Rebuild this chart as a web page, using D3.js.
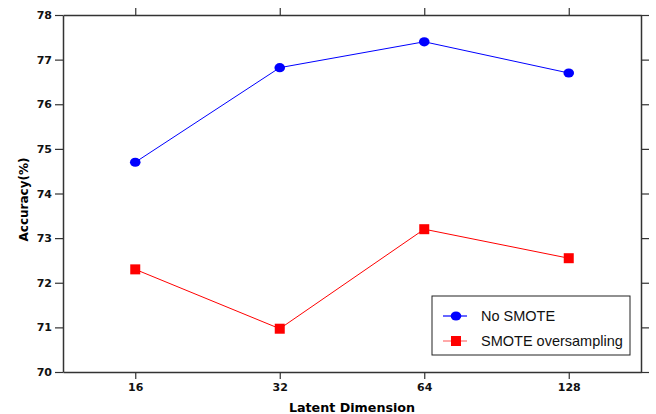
<!DOCTYPE html>
<html>
<head>
<meta charset="utf-8">
<script src="https://cdn.jsdelivr.net/npm/d3@7"></script>
<style>
  body { margin: 0; background: #fff; }
</style>
</head>
<body>
<div id="chart-area"></div>
<script>
// data
const dims = ["16", "32", "64", "128"];
const noSmote = [74.7, 76.82, 77.4, 76.7];
const smote = [72.3, 70.97, 73.2, 72.55];
const yTicks = [70, 71, 72, 73, 74, 75, 76, 77, 78];

const WIDTH = 656, HEIGHT = 414;
const MARGIN = { LEFT: 63, RIGHT: 15, TOP: 15, BOTTOM: 42 };
const w = WIDTH - MARGIN.LEFT - MARGIN.RIGHT;
const h = HEIGHT - MARGIN.TOP - MARGIN.BOTTOM;
const BOLD_FONT = "'DejaVu Sans', sans-serif";
const LEGEND_FONT = "'Liberation Sans', Arial, sans-serif";

const svg = d3.select("#chart-area").append("svg")
  .attr("width", WIDTH).attr("height", HEIGHT);

const g = svg.append("g")
  .attr("transform", `translate(${MARGIN.LEFT}, ${MARGIN.TOP})`);

const x = d3.scalePoint().domain(dims).range([0, w]).padding(0.5);
const y = d3.scaleLinear().domain([70, 78]).range([h, 0]);

// axes on all four sides, labels only left and bottom
const styleAxis = sel => {
  sel.select(".domain").attr("stroke", "#333").attr("stroke-width", 1.5);
  sel.selectAll(".tick line").attr("stroke", "#333").attr("stroke-width", 1.2);
  sel.selectAll("text")
    .style("font-family", BOLD_FONT)
    .style("font-size", "11px").style("font-weight", "bold").attr("fill", "#111");
};

g.append("g").attr("transform", `translate(0, ${h})`)
  .call(d3.axisBottom(x).tickSize(7).tickSizeOuter(0).tickPadding(4))
  .call(styleAxis);
g.append("g")
  .call(d3.axisTop(x).tickSize(7).tickSizeOuter(0).tickFormat(""))
  .call(styleAxis);
g.append("g")
  .call(d3.axisLeft(y).tickValues(yTicks).tickSize(8).tickSizeOuter(0).tickPadding(3))
  .call(styleAxis);
g.append("g").attr("transform", `translate(${w}, 0)`)
  .call(d3.axisRight(y).tickValues(yTicks).tickSize(8).tickSizeOuter(0).tickFormat(""))
  .call(styleAxis);

// axis titles
g.append("text")
  .attr("x", w / 2).attr("y", h + 40)
  .attr("text-anchor", "middle")
  .style("font-family", BOLD_FONT)
  .style("font-size", "12.7px").style("font-weight", "bold")
  .text("Latent Dimension");

g.append("text")
  .attr("transform", "rotate(-90)")
  .attr("x", -(h / 2 + 6)).attr("y", -35.5)
  .attr("text-anchor", "middle")
  .style("font-family", BOLD_FONT)
  .style("font-size", "12px").style("font-weight", "bold")
  .text("Accuracy(%)");

const line = d3.line().x((d, i) => x(dims[i])).y(d => y(d));

// No SMOTE
g.append("path").datum(noSmote)
  .attr("d", line).attr("fill", "none").attr("stroke", "#0000ff").attr("stroke-width", 1);
g.selectAll(".dot").data(noSmote).enter().append("ellipse")
  .attr("cx", (d, i) => x(dims[i])).attr("cy", d => y(d))
  .attr("rx", 5.3).attr("ry", 4.6).attr("fill", "#0000ff");

// SMOTE oversampling
g.append("path").datum(smote)
  .attr("d", line).attr("fill", "none").attr("stroke", "#ff0000").attr("stroke-width", 1);
g.selectAll(".sq").data(smote).enter().append("rect")
  .attr("x", (d, i) => x(dims[i]) - 5).attr("y", d => y(d) - 5)
  .attr("width", 10).attr("height", 10).attr("fill", "#ff0000");

// legend
const leg = svg.append("g").attr("transform", "translate(432, 296)");
leg.append("rect").attr("width", 198).attr("height", 59)
  .attr("fill", "#fff").attr("stroke", "#222").attr("stroke-width", 1);
const items = [
  { name: "No SMOTE", color: "#0000ff", lineColor: "#0000ff", shape: "circle" },
  { name: "SMOTE oversampling", color: "#ff0000", lineColor: "#ff7070", shape: "square" }
];
items.forEach((it, i) => {
  const yy = 20 + i * 25;
  leg.append("line").attr("x1", 11).attr("x2", 35).attr("y1", yy).attr("y2", yy)
    .attr("stroke", it.lineColor).attr("stroke-width", 1.2);
  if (it.shape === "circle") {
    leg.append("ellipse").attr("cx", 24).attr("cy", yy).attr("rx", 5.3).attr("ry", 4.6).attr("fill", it.color);
  } else {
    leg.append("rect").attr("x", 19).attr("y", yy - 5).attr("width", 10).attr("height", 10).attr("fill", it.color);
  }
  leg.append("text").attr("x", 49).attr("y", yy + 5)
    .style("font-family", LEGEND_FONT)
    .style("font-size", "14.5px").attr("fill", "#111").text(it.name);
});
</script>
</body>
</html>
